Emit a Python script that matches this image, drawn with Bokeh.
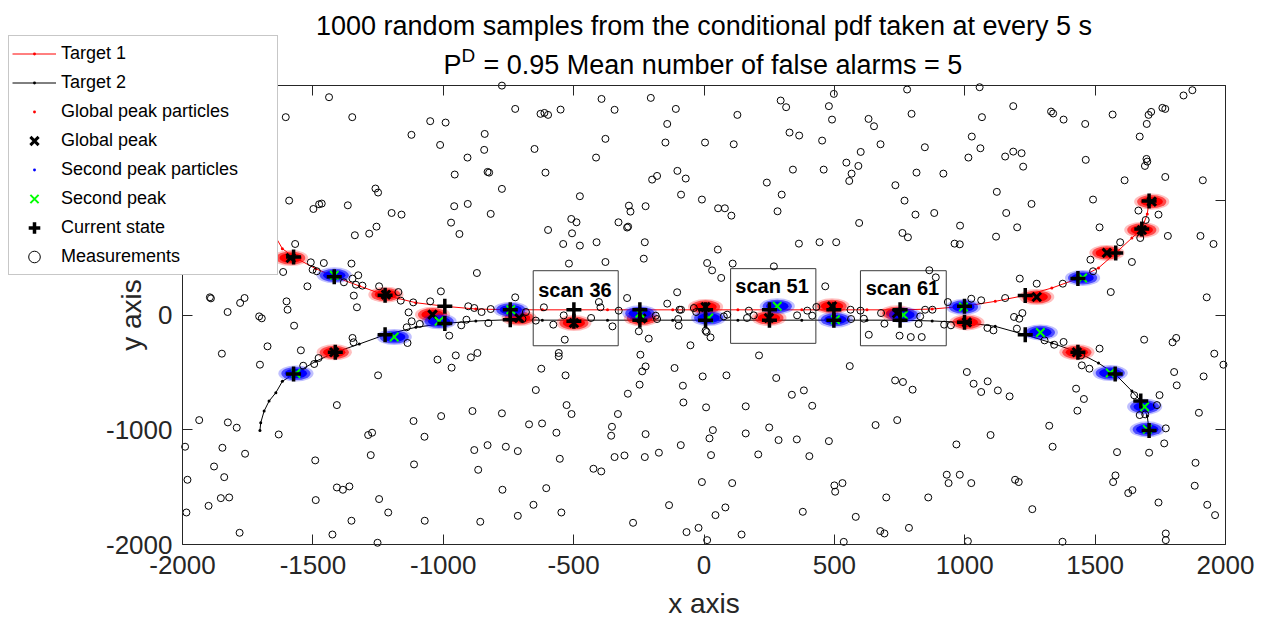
import math
from bokeh.plotting import figure
from bokeh.models import Range1d, LinearAxis, FixedTicker, Legend, LegendItem, Label
from bokeh.core.properties import value
from bokeh.embed import file_html
from bokeh.resources import INLINE

FONT = "Liberation Sans"
AX = "#262626"

# ---------------- texts ----------------
title_line1 = "1000 random samples from the conditional pdf taken at every 5 s"
title_p = "P"
title_sup = "D"
title_rest = "= 0.95 Mean number of false alarms = 5"
x_label = "x axis"
y_label = "y axis"
x_ticks = [-2000, -1500, -1000, -500, 0, 500, 1000, 1500, 2000]
y_ticks = [-2000, -1000, 0, 1000, 2000]

# ---------------- target trajectories ----------------
t1_x = [-1703, -1700, -1687, -1668, -1642, -1617, -1574, -1489, -1418, -1322, -1223, -1105, -994, -875,
        -743, -620, -499, -370, -246, -120, 6, 130, 251, 375, 498, 625, 752, 875, 999, 1117, 1232,
        1334, 1434, 1513, 1579, 1641, 1679, 1700, 1707]
t1_y = [1006, 939, 837, 750, 677, 578, 506, 404, 334, 253, 172, 107, 76, 52,
        46, 45, 45, 45, 45, 45, 45, 45, 45, 45, 45, 45, 45, 52, 76, 119, 171,
        235, 317, 410, 541, 671, 750, 880, 994]
t2_x = [-1703, -1700, -1687, -1668, -1642, -1617, -1574, -1489, -1414, -1322, -1223, -1105, -994, -875,
        -743, -620, -499, -370, -246, -120, 6, 130, 251, 375, 498, 625, 752, 875, 999, 1117, 1232,
        1334, 1434, 1513, 1577, 1641, 1675, 1700, 1707]
t2_y = [-1006, -939, -837, -750, -677, -578, -515, -404, -325, -253, -172, -107, -73, -52,
        -41, -45, -45, -45, -45, -45, -45, -45, -45, -45, -45, -45, -45, -52, -64, -99, -172,
        -244, -325, -419, -515, -663, -750, -880, -1006]

# current state, every 5 s
state1_x = [-1574, -1418, -1223, -994, -743, -499, -246, 6, 251, 498, 752, 999, 1232, 1434, 1579, 1679, 1707]
state1_y = [506, 334, 172, 76, 46, 45, 45, 45, 45, 45, 45, 76, 171, 317, 541, 750, 994]
state2_x = [-1574, -1414, -1223, -994, -743, -499, -246, 6, 251, 498, 752, 999, 1232, 1434, 1577, 1675, 1707]
state2_y = [-515, -325, -172, -73, -41, -55, -45, -45, -45, -45, -45, -64, -172, -325, -515, -750, -1006]

# global peaks (centres of the global-peak particle clouds)
gp_x = [-1585, -1418, -1220, -1041, -709, -499, -240, 6, 249, 491, 740, 1008, 1276, 1430, 1545, 1679, 1717]
gp_y = [497, -325, 177, 3, -26, -70, -30, 70, -26, 76, 15, -64, 157, -325, 541, 741, 988]
# second peaks (centres of the second-peak particle clouds)
sp_x = [-1565, -1418, -1188, -1016, -741, -246, 18, 281, 504, 765, 995, 1290, 1452, 1558, 1690, 1700]
sp_y = [-510, 346, -192, -55, 46, 15, -26, 76, -41, 0, 70, -152, 323, -506, -800, -997]

# scan boxes
scan_labels = ["scan 36", "scan 51", "scan 61"]
scan_left = [-655, 102, 600]
scan_right = [-329, 429, 929]
scan_bottom = [-268, -247, -268]
scan_top = [386, 404, 386]
scan_text_x = [-495, 261, 761]
scan_text_y = [221, 250, 235]

# ---------------- measurements ----------------
meas_x_a = [-775, -1438, -724, -1604, -1349, -1050, -991, -1122, -841, -1012, -843, -907, -956, -830, -824,
            -1260, -1250, -775, -1591, -1498, -1476, -1466, -1366, -958, -906, -1198, -1160, -818, -970,
            -1256, -1284, -1339, -938]
meas_y_a = [1999, 1898, 1796, 1724, 1724, 1689, 1677, 1570, 1578, 1482, 1439, 1372, 1224, 1247, 1241,
            1102, 1067, 1099, 997, 924, 965, 971, 956, 948, 968, 889, 875, 881, 805,
            770, 709, 695, 706]
meas_x_b = [-393, -204, -343, -550, -627, -612, -598, -108, 128, 294,
            315, 498, 479, 491, 631, 652, -141, -650, -378, -148,
            4, 114, 328, 365, 453, 601, -414, -608, -199, -180,
            -102, -70, 241, 341, 459, 546, 592, 566, 557, -476,
            -88, -8, 298, -288, -282, -224, 54, 80, 105, 282,
            -509, -489, -328, -295, -291, -598, -506, 595]
meas_y_b = [1883, 1892, 1788, 1790, 1753, 1761, 1744, 1796, 1744, 1869,
            1811, 1927, 1820, 1703, 1709, 1645, 1665, 1447, 1535, 1503,
            1503, 1488, 1590, 1564, 1520, 1421, 1372, 1241, 1180, 1212,
            1256, 1189, 1154, 1267, 1267, 1328, 1299, 1232, 1168, 1035,
            1049, 1006, 1049, 953, 901, 948, 930, 930, 866, 904,
            837, 808, 808, 762, 770, 741, 712, 802]
meas_x_c = [779, 1057, 1186, 796, 1066, 1331, 1339, 1379, 1462, 1567,
            1705, 1715, 1698, 1758, 1769, 1839, 1873, 1671, 677, 1027,
            847, 1060, 1155, 1186, 1218, 1224, 1014, 1464, 1697, 1700,
            1691, 815, 918, 734, 1613, 1769, 1913, 1123, 1492, 769,
            1256, 811, 883, 1159, 1666, 1743, 1694, 982, 1201, 1517,
            761, 782, 1120, 1779, 1904]
meas_y_c = [1965, 1985, 1820, 1753, 1724, 1773, 1756, 1703, 1665, 1747,
            1744, 1770, 1665, 1805, 1796, 1913, 1959, 1555, 1488, 1555,
            1462, 1453, 1381, 1424, 1410, 1293, 1372, 1352, 1360, 1337,
            1299, 1241, 1232, 1131, 1174, 1203, 1174, 1073, 1006, 997,
            968, 875, 889, 889, 910, 875, 828, 779, 764, 764,
            715, 677, 683, 689, 689]
meas_x_d = [-1568, -1614, -1508, -1458, -1352, -1501, -1485, -1326, -1348, -1335,
            -1310, -1381, -1521, -871, -1246, -1172, -1343, -1163, -1115, -1050,
            -1009, -1331, -1895, -1891, -1762, -1779, -1601, -1597, -1827, -1706,
            -1696, -1133, -904, -881, -853, -818, -724, -683, -696, -931,
            -911, -827, -1090, -1121, -1140, -1572, -977, -1348, -1344, -1137,
            -1674, -1546, -1478, -1495, -1537, -1849, -1703, -1022, -952, -894,
            -869, -968, -1250]
meas_y_d = [619, 375, 459, 453, 448, 395, 381, 346, 317, 264,
            256, 285, 250, 366, 250, 200, 169, 125, 110, 119,
            206, 67, 154, 145, 148, 105, 119, 46, 26, -12,
            -29, 23, 76, 61, 26, 52, 154, 26, -35, -90,
            -41, -70, -78, -55, -107, -93, -180, -200, -238, -244,
            -273, -308, -375, -427, -442, -337, -433, -389, -352, -369,
            -331, -459, -526]
meas_x_e = [-540, -476, -412, -227, -231, -518, -378, 53, 12, 31,
            66, 110, 268, 364, 443, 507, 465, -295, -403, -397,
            -614, -103, -141, -94, -88, -39, -30, 76, 89, 172,
            165, 191, 357, 396, 415, 431, 562, 600, 564, 613,
            -645, -578, -538, -433, -351, -327, -185, -180, -99, -97,
            6, 10, 25, -52, -534, -250, -212, -557, -557, -244,
            -224, -237, -624, -531, -113, -5, 86, 277, 211, 559,
            632, -247, -81, 383, -645]
meas_y_e = [619, 605, 634, 634, 491, 448, 462, 570, 453, 389,
            323, 448, 424, 622, 634, 634, 250, 148, 113, 67,
            67, 198, 99, 46, 46, 61, 26, -12, 3, 38,
            -26, -3, -3, 38, -6, 70, 46, 38, -35, -32,
            -49, -84, -3, -26, -99, 38, -6, -35, -35, -93,
            -137, -148, -195, -264, -215, -142, -206, -331, -360, -346,
            -448, -491, -468, -526, -462, -535, -526, -549, -352, -445,
            -172, -607, -616, -657, -654]
meas_x_f = [961, 981, 1596, 1673, 1954, 1641, 1482, 1492, 864, 889,
            1211, 1276, 1376, 1560, 1928, 1155, 1063, 935, 1025, 848,
            876, 829, 679, 692, 823, 835, 793, 750, 921, 947,
            1087, 1110, 1189, 1209, 1221, 1200, 1306, 1343, 1379, 1517,
            1446, 1449, 1478, 1688, 1797, 1811, 1957, 1992, 1008, 733,
            763, 800, 1034, 1088, 1127, 1427, 1803, 1813, 1916]
meas_y_f = [622, 616, 634, 671, 619, 462, 482, 381, 390, 328,
            317, 273, 273, 200, 154, 148, 128, 113, 142, 46,
            46, -12, 17, -76, -78, -192, -192, -180, -84, -90,
            -113, -134, -17, -32, 17, -119, -221, -259, -235, -293,
            -352, -439, -468, -215, -238, -200, -337, -433, -497, -570,
            -584, -651, -599, -578, -657, -642, -497, -613, -535]
meas_x_g = [-1936, -1826, -1792, -1631, -1408, -1114, -1008, -888, -775, -671,
            -1990, -1847, -1760, -1288, -1273, -1278, -1072, -1491, -1112, -881,
            -830, -760, -714, -866, -1879, -1840, -1981, -1408, -1385, -1360,
            -1489, -1246, -1211, -1900, -1853, -1821, -1985, -1352, -1071, -858,
            -714, -773, -1781, -1425, -1252]
meas_y_g = [-916, -936, -982, -1041, -785, -924, -881, -837, -857, -953,
            -1148, -1157, -1209, -1046, -1026, -1221, -1061, -1267, -1302, -1177,
            -1134, -1148, -1186, -1349, -1320, -1413, -1436, -1503, -1523, -1494,
            -1613, -1604, -1721, -1663, -1596, -1590, -1721, -1793, -1793, -1802,
            -1750, -1523, -1898, -1913, -1985]
meas_x_h = [-292, -527, -508, -330, -79, 8, 160, 337, 415, -621,
            -566, -353, -356, -224, 34, 21, 160, 250, 286, 356,
            479, 658, -89, -173, -305, -343, -227, 27, 208, 404,
            -553, -424, -394, -8, 108, -605, 500, 531, 503, -654,
            -547, -134, 82, 44, 379, 582, -272, -67, -21, 12,
            144, 536]
meas_y_h = [-686, -785, -863, -863, -762, -805, -796, -695, -791, -945,
            -1026, -974, -1052, -1038, -1003, -1075, -1032, -980, -1090, -1084,
            -1099, -959, -1134, -1200, -1224, -1238, -1238, -1221, -1215, -1230,
            -1253, -1340, -1363, -1456, -1465, -1509, -1485, -1465, -1540, -1654,
            -1721, -1657, -1677, -1744, -1715, -1759, -1811, -1892, -1855, -1962,
            -1913, -1977]
meas_x_i = [1063, 1172, 1457, 1650, 1747, 1737, 1671, 1692, 1432, 1898,
            741, 1324, 1771, 1099, 1765, 968, 1337, 1584, 1707, 1885,
            931, 981, 938, 1025, 1193, 1207, 1578, 1569, 1643, 1627,
            1882, 699, 860, 1743, 1930, 1960, 1259, 786, 676, 692,
            1012, 1375, 1771, 1771]
meas_y_i = [-671, -709, -732, -700, -698, -785, -872, -866, -834, -852,
            -916, -965, -988, -1046, -1119, -1128, -1148, -1195, -1200, -1288,
            -1392, -1392, -1465, -1465, -1436, -1456, -1398, -1456, -1526, -1552,
            -1488, -1590, -1590, -1634, -1654, -1744, -1692, -1855, -1883, -1904,
            -1971, -1976, -1904, -1962]

meas_x, meas_y = [], []
for mx, my in [(meas_x_a, meas_y_a), (meas_x_b, meas_y_b), (meas_x_c, meas_y_c),
               (meas_x_d, meas_y_d), (meas_x_e, meas_y_e), (meas_x_f, meas_y_f),
               (meas_x_g, meas_y_g), (meas_x_h, meas_y_h), (meas_x_i, meas_y_i)]:
    assert len(mx) == len(my), (len(mx), len(my))
    meas_x += mx
    meas_y += my

# ---------------- layout (pixels of the page) ----------------
W, H = 1262, 622
BOX_L, BOX_R, BOX_T, BOX_B = 182, 1225, 85, 544
X0, X1 = x_ticks[0], x_ticks[-1]
Y0, Y1 = y_ticks[0], y_ticks[-1]
xpp = (X1 - X0) / (BOX_R - BOX_L)
ypp = (Y1 - Y0) / (BOX_B - BOX_T)
x_range = Range1d(X0 - BOX_L * xpp, X1 + (W - BOX_R) * xpp)
y_range = Range1d(Y0 - (H - BOX_B) * ypp, Y1 + BOX_T * ypp)

p = figure(frame_width=W, frame_height=H, x_range=x_range, y_range=y_range,
           output_backend="svg", toolbar_location=None,
           min_border_left=0, min_border_right=0, min_border_top=0, min_border_bottom=0,
           background_fill_color="white", border_fill_color="white")
p.grid.visible = False
p.outline_line_color = None


def style_axis(ax, ticks, loc, bounds, labels=True):
    ax.ticker = FixedTicker(ticks=ticks)
    ax.fixed_location = loc
    ax.bounds = bounds
    ax.major_tick_in = 10
    ax.major_tick_out = 0
    ax.minor_tick_line_color = None
    ax.axis_line_color = AX
    ax.axis_line_width = 1
    ax.major_tick_line_color = AX
    ax.major_label_text_font = FONT
    ax.major_label_text_font_size = "26px"
    ax.major_label_text_color = AX
    if labels:
        ax.major_label_overrides = {t: str(t) for t in ticks}
    else:
        ax.major_label_overrides = {t: "" for t in ticks}


style_axis(p.xaxis[0], x_ticks, Y0, (X0, X1))
style_axis(p.yaxis[0], y_ticks, X0, (Y0, Y1))
p.xaxis[0].major_label_standoff = 11
p.yaxis[0].major_label_standoff = 10

top_ax = LinearAxis()
right_ax = LinearAxis()
style_axis(top_ax, x_ticks, Y1, (X0, X1), labels=False)
style_axis(right_ax, y_ticks, X1, (Y0, Y1), labels=False)
p.add_layout(top_ax, "above")
p.add_layout(right_ax, "right")

RED = "#ff0000"
BLUE = "#0000ff"
GREEN = "#00ff00"

# target lines with point markers
l1 = p.line(t1_x, t1_y, line_color=RED, line_width=1)
m1 = p.scatter(t1_x, t1_y, marker="dot", size=12, line_color=RED, fill_color=RED)
l2 = p.line(t2_x, t2_y, line_color="black", line_width=1)
m2 = p.scatter(t2_x, t2_y, marker="dot", size=12, line_color="black", fill_color="black")

# particle clouds
gpp = p.scatter(gp_x, gp_y, marker="dot", size=14, line_color=RED, fill_color=RED)
spp = p.scatter(sp_x, sp_y, marker="dot", size=14, line_color=BLUE, fill_color=BLUE)
for cx, cy, col in [(gp_x, gp_y, RED), (sp_x, sp_y, BLUE)]:
    p.ellipse(x=cx, y=cy, width=135, height=140, fill_color=col, fill_alpha=0.25, line_color=None)
    p.ellipse(x=cx, y=cy, width=112, height=115, fill_color=col, fill_alpha=0.6, line_color=None)
    p.ellipse(x=cx, y=cy, width=86, height=84, fill_color=col, fill_alpha=1.0, line_color=None)

# scan boxes
p.quad(left=scan_left, right=scan_right, bottom=scan_bottom, top=scan_top,
       fill_color=None, line_color="#3a3a3a", line_width=1)
p.text(x=scan_text_x, y=scan_text_y, text=scan_labels, text_font=value(FONT),
       text_font_style="bold", text_font_size="20px", text_align="center",
       text_baseline="middle", text_color="black")

# measurements
meas = p.scatter(meas_x, meas_y, marker="circle", size=7, fill_color=None, line_color="black", line_width=1)

# peaks and states
gpk = p.scatter(gp_x, gp_y, marker="x", size=12, line_color="black", line_width=3)
spk = p.scatter(sp_x, sp_y, marker="x", size=12, line_color=GREEN, line_width=2)
st1 = p.scatter(state1_x, state1_y, marker="cross", size=15, line_color="black", line_width=3.5)
st2 = p.scatter(state2_x, state2_y, marker="cross", size=15, line_color="black", line_width=3.5)

LEG_L, LEG_B = 8, 275
legend = Legend(items=[
    LegendItem(label="Target 1", renderers=[l1, m1]),
    LegendItem(label="Target 2", renderers=[l2, m2]),
    LegendItem(label="Global peak particles", renderers=[gpp]),
    LegendItem(label="Global peak", renderers=[gpk]),
    LegendItem(label="Second peak particles", renderers=[spp]),
    LegendItem(label="Second peak", renderers=[spk]),
    LegendItem(label="Current state", renderers=[st1]),
    LegendItem(label="Measurements", renderers=[meas]),
], location=(LEG_L, H - LEG_B))
legend.label_text_font = FONT
legend.label_text_font_size = "18px"
legend.label_text_color = "black"
legend.glyph_width = 44
legend.glyph_height = 29
legend.label_height = 29
legend.spacing = 0
legend.padding = 3
legend.margin = 0
legend.label_standoff = 5
legend.label_width = 213
legend.border_line_color = "#909090"
legend.border_line_width = 1
legend.background_fill_color = "white"
legend.background_fill_alpha = 1.0
p.add_layout(legend)


def add_text(text, x, y, size, align="left", angle=0.0, color="black"):
    p.add_layout(Label(x=x, y=H - y, x_units="screen", y_units="screen", text=text,
                       text_align=align, text_baseline="alphabetic", text_font=FONT,
                       text_font_size=size, text_color=color, angle=angle))


# title (two lines, superscript D)
add_text(title_line1, (BOX_L + BOX_R) / 2, 25, "27px", align="center")
add_text(title_p, 443, 64, "27px")
add_text(title_sup, 461, 55, "19px")
add_text(title_rest, 483, 64, "27px")
# axis labels
add_text(x_label, (BOX_L + BOX_R) / 2, 603, "28px", align="center", color=AX)
add_text(y_label, 131, (BOX_T + BOX_B) / 2, "28px", align="center", angle=math.pi / 2, color=AX)

open("out.html", "w").write(file_html(p, INLINE, title="plot"))
